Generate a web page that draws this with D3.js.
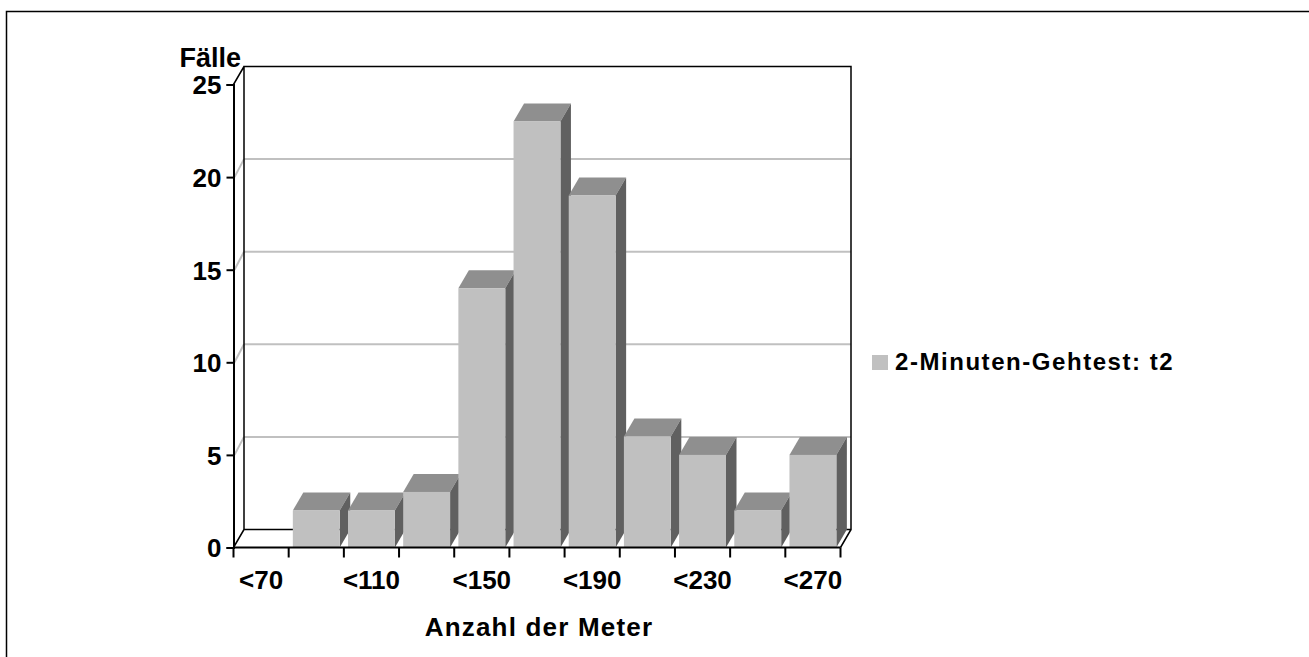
<!DOCTYPE html>
<html>
<head>
<meta charset="utf-8">
<script src="https://cdn.jsdelivr.net/npm/d3@7/dist/d3.min.js"></script>
<style>
  html, body { margin: 0; padding: 0; background: #fff; }
  svg { display: block; font-family: Arial, "Liberation Sans", sans-serif; font-weight: bold; }
</style>
</head>
<body>
<svg id="chart" width="1309" height="657"></svg>
<script>
// Distance classes (meters walked in 2 minutes) and case counts
const categories = ["<70", "<90", "<110", "<130", "<150", "<170", "<190", "<210", "<230", "<250", "<270"];
const counts = [0, 2, 2, 3, 14, 23, 19, 6, 5, 2, 5];
const yTicks = [0, 5, 10, 15, 20, 25];
const shownLabels = ["<70", "<110", "<150", "<190", "<230", "<270"];
const seriesName = "2-Minuten-Gehtest: t2";
const yTitle = "Fälle";
const xTitle = "Anzahl der Meter";

const svg = d3.select("#chart");

// Frame around the whole chart area
svg.append("rect")
  .attr("x", 6.5).attr("y", 11.5)
  .attr("width", 1400).attr("height", 800)
  .attr("fill", "none").attr("stroke", "#000").attr("stroke-width", 1.5);

// Front plane geometry and depth offset of the 3D box
const plotLeft = 233.5, plotRight = 840.5, plotBottom = 547.5, plotTop = 84.5;
const DX = 10.5, DY = -18;

const xSlots = d3.scaleBand().domain(categories).range([plotLeft, plotRight]).padding(0);
const xBars = d3.scaleBand().domain(categories).range([plotLeft, plotRight])
  .paddingInner(0.15).paddingOuter(0.075);
const y = d3.scaleLinear().domain([0, 25]).range([plotBottom, plotTop]);

const g = svg.append("g");

// Gridlines on the back wall and along the left side wall
const grid = yTicks.filter(v => v > 0 && v < 25);
g.selectAll("line.grid").data(grid).join("line").attr("class", "grid")
  .attr("x1", plotLeft + DX).attr("x2", plotRight + DX)
  .attr("y1", d => y(d) + DY).attr("y2", d => y(d) + DY)
  .attr("stroke", "#c0c0c0").attr("stroke-width", 2);
g.selectAll("line.gridside").data(grid).join("line").attr("class", "gridside")
  .attr("x1", plotLeft + 1).attr("x2", plotLeft + DX)
  .attr("y1", d => y(d)).attr("y2", d => y(d) + DY)
  .attr("stroke", "#c0c0c0").attr("stroke-width", 2);

// Wall and floor outlines
const wall = d3.path();
wall.moveTo(plotLeft + DX, y(0) + DY); wall.lineTo(plotLeft + DX, y(25) + DY);
wall.lineTo(plotRight + DX, y(25) + DY); wall.lineTo(plotRight + DX, y(0) + DY);
wall.lineTo(plotLeft + DX, y(0) + DY);
wall.moveTo(plotLeft, y(25)); wall.lineTo(plotLeft + DX, y(25) + DY);
wall.moveTo(plotLeft, y(0)); wall.lineTo(plotLeft + DX, y(0) + DY);
wall.moveTo(plotRight, y(0)); wall.lineTo(plotRight + DX, y(0) + DY);
g.append("path").attr("d", wall.toString())
  .attr("fill", "none").attr("stroke", "#000").attr("stroke-width", 1.5);

// 3D bars: top, side, then front face
const bars = g.selectAll("g.bar").data(categories.map((c, i) => ({ c, v: counts[i] })).filter(d => d.v > 0))
  .join("g").attr("class", "bar");
bars.append("path").attr("fill", "#8f8f8f").attr("d", d => {
  const x0 = xBars(d.c), x1 = x0 + xBars.bandwidth(), yt = y(d.v);
  return `M${x0},${yt}L${x0 + DX},${yt + DY}L${x1 + DX},${yt + DY}L${x1},${yt}Z`;
});
bars.append("path").attr("fill", "#606060").attr("d", d => {
  const x1 = xBars(d.c) + xBars.bandwidth(), yt = y(d.v), yb = y(0);
  return `M${x1},${yt}L${x1 + DX},${yt + DY}L${x1 + DX},${yb + DY}L${x1},${yb}Z`;
});
bars.append("rect").attr("fill", "#c0c0c0")
  .attr("x", d => xBars(d.c)).attr("width", xBars.bandwidth())
  .attr("y", d => y(d.v)).attr("height", d => y(0) - y(d.v));

// Y axis
const yAxis = g.append("g").attr("transform", `translate(${plotLeft},0)`)
  .call(d3.axisLeft(y).tickValues(yTicks).tickSize(7).tickPadding(5));
yAxis.select(".domain").attr("stroke-width", 2);
yAxis.selectAll(".tick line").attr("stroke-width", 2);
yAxis.selectAll(".tick text").attr("font-size", 26).attr("font-family", "Arial, 'Liberation Sans', sans-serif")
  .attr("font-weight", "bold").attr("fill", "#000").attr("dy", "0.36em");

// X axis with ticks at category boundaries
const xAxis = g.append("g").attr("transform", `translate(0,${plotBottom})`);
xAxis.append("line").attr("x1", plotLeft).attr("x2", plotRight).attr("stroke", "#000").attr("stroke-width", 2);
const bounds = categories.map(c => xSlots(c)).concat([plotRight]);
xAxis.selectAll("line.tk").data(bounds).join("line").attr("class", "tk")
  .attr("x1", d => d).attr("x2", d => d).attr("y1", 0).attr("y2", 10)
  .attr("stroke", "#000").attr("stroke-width", 2);
xAxis.selectAll("text").data(shownLabels).join("text")
  .attr("x", d => xSlots(d) + xSlots.bandwidth() / 2).attr("y", 41)
  .attr("text-anchor", "middle").attr("font-size", 26).text(d => d);

// Axis titles
svg.append("text").attr("x", 241).attr("y", 67).attr("text-anchor", "end")
  .attr("font-size", 27).text(yTitle);
svg.append("text").attr("x", 539).attr("y", 636).attr("text-anchor", "middle")
  .attr("font-size", 26).attr("letter-spacing", 1.2).text(xTitle);

// Legend
const lg = svg.append("g").attr("transform", "translate(872,355)");
lg.append("rect").attr("width", 16).attr("height", 15).attr("fill", "#c0c0c0");
lg.append("text").attr("x", 23).attr("y", 14.5).attr("font-size", 24).attr("letter-spacing", 1.55)
  .text(seriesName);
</script>
</body>
</html>
